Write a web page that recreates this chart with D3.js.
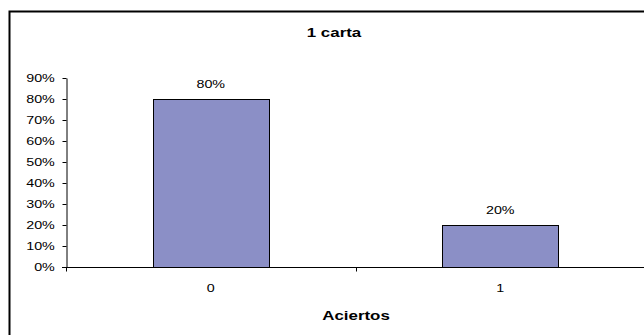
<!DOCTYPE html>
<html>
<head>
<meta charset="utf-8">
<script src="https://cdn.jsdelivr.net/npm/d3@7/dist/d3.min.js"></script>
<style>
  html, body { margin: 0; padding: 0; background: #fff; }
  svg { display: block; font-family: "Liberation Sans", Arial, sans-serif; }
</style>
</head>
<body>
<svg id="chart" width="644" height="335"></svg>
<script>
// Share of correct answers (Aciertos) with one card
const categories = ["0", "1"];
const values = [0.8, 0.2];
const yTicks = [0, 0.1, 0.2, 0.3, 0.4, 0.5, 0.6, 0.7, 0.8, 0.9];
const chartTitle = "1 carta";
const xTitle = "Aciertos";

const svg = d3.select("#chart");
const W = 644, H = 335;
const plot = { left: 66, right: 645, top: 78, bottom: 267 };
const SX = 1.3; // horizontal widening of all lettering

// place a text at (x, y), widened horizontally around its anchor
function placeText(sel, fx, fy) {
  return sel.attr("x", 0).attr("y", 0)
    .attr("transform", (d, i) => `translate(${fx(d, i)},${fy(d, i)}) scale(${SX},1)`);
}

// chart frame (extends past the right and bottom edges)
svg.append("rect")
  .attr("x", 9.5).attr("y", 11.5)
  .attr("width", W + 10).attr("height", H + 10)
  .attr("fill", "#fff").attr("stroke", "#000").attr("stroke-width", 2);

const x = d3.scaleBand()
  .domain(categories)
  .range([plot.left, plot.right])
  .paddingInner(0.6)
  .paddingOuter(0.3);

const y = d3.scaleLinear()
  .domain([0, 0.9])
  .range([plot.bottom, plot.top]);

// bars
svg.append("g").selectAll("rect")
  .data(categories)
  .join("rect")
  .attr("x", d => Math.round(x(d)) + 0.5)
  .attr("y", (d, i) => Math.round(y(values[i])) + 0.5)
  .attr("width", Math.round(x.bandwidth()))
  .attr("height", (d, i) => Math.round(y(0)) - Math.round(y(values[i])))
  .attr("fill", "#8b8fc6")
  .attr("stroke", "#000")
  .attr("stroke-width", 1);

// value labels
svg.append("g").selectAll("text")
  .data(categories)
  .join("text")
  .call(placeText, d => x(d) + x.bandwidth() / 2, (d, i) => y(values[i]) - 11)
  .attr("text-anchor", "middle")
  .attr("font-size", 11)
  .attr("fill", "#000")
  .text((d, i) => d3.format(".0%")(values[i]));

// y axis
const yAxis = svg.append("g")
  .attr("transform", `translate(${plot.left + 0.5},0)`)
  .call(d3.axisLeft(y).tickValues(yTicks).tickFormat(d3.format(".0%")).tickSize(4).tickSizeOuter(0).tickPadding(5));
yAxis.select(".domain").attr("stroke", "#000");
yAxis.selectAll(".tick line").attr("stroke", "#000");
yAxis.selectAll("text")
  .attr("transform", `scale(${SX},1)`)
  .attr("font-size", 11).attr("fill", "#000")
  .attr("font-family", "'Liberation Sans', Arial, sans-serif");

// x axis: category boundaries carry the ticks
const xAxisG = svg.append("g").attr("transform", `translate(0,${Math.round(plot.bottom) + 0.5})`);
xAxisG.append("line")
  .attr("x1", plot.left - 4).attr("x2", plot.right)
  .attr("stroke", "#000");
const step = x.step();
const bounds = d3.range(categories.length + 1).map(i => plot.left + i * step);
xAxisG.selectAll("line.tick")
  .data(bounds)
  .join("line")
  .attr("class", "tick")
  .attr("x1", d => Math.round(d) + 0.5).attr("x2", d => Math.round(d) + 0.5)
  .attr("y1", 0).attr("y2", 4)
  .attr("stroke", "#000");
xAxisG.selectAll("text")
  .data(categories)
  .join("text")
  .call(placeText, d => x(d) + x.bandwidth() / 2, () => 24)
  .attr("text-anchor", "middle")
  .attr("font-size", 11)
  .attr("fill", "#000")
  .text(d => d);

// titles
svg.append("text")
  .datum(chartTitle)
  .call(placeText, () => 334, () => 37)
  .attr("text-anchor", "middle")
  .attr("font-size", 13).attr("font-weight", "bold")
  .text(d => d);

svg.append("text")
  .datum(xTitle)
  .call(placeText, () => 356, () => 320)
  .attr("text-anchor", "middle")
  .attr("font-size", 13).attr("font-weight", "bold")
  .text(d => d);
</script>
</body>
</html>
